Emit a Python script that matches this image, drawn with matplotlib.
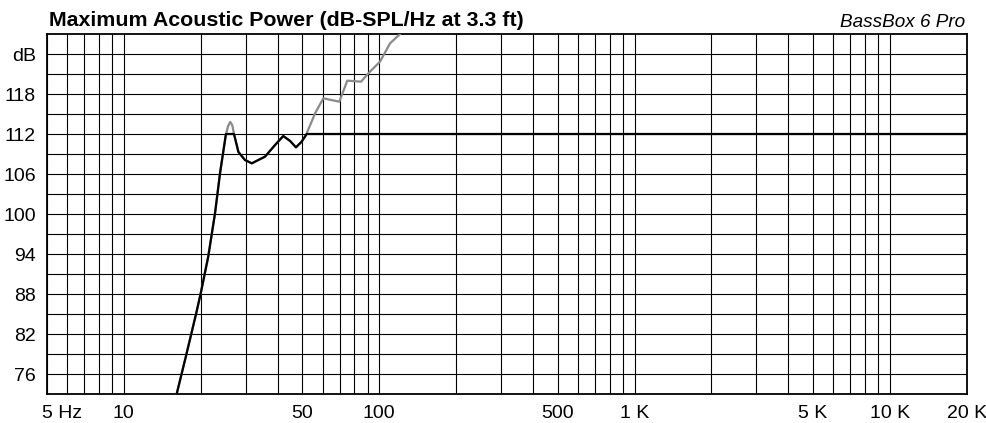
import matplotlib
matplotlib.use("Agg")
import matplotlib.pyplot as plt
from matplotlib.ticker import LogLocator, FixedLocator, NullFormatter
from matplotlib.transforms import ScaledTranslation
import numpy as np

plt.rcParams['font.family'] = ['Liberation Sans', 'DejaVu Sans']

# unclipped max power curve (grey) and the displacement/power-limited curve (black)
gray_freq = [16.1, 17.55, 19.2, 20.0, 21.4, 22.75, 23.8, 25.1, 25.6, 26.1, 26.6, 27.0, 28.1, 29.8,
             31.7, 35.7, 39.1, 42.1, 44.8, 47.2, 49.7, 51.7, 56.1, 60.4, 69.8, 75.0, 84.9,
             90.7, 100.7, 110.3, 120.7, 130.0]
gray_db = [73.0, 78.85, 85.1, 88.1, 93.6, 100.1, 106.1, 111.9, 113.2, 113.8, 113.3, 112.0, 109.3, 108.1,
           107.6, 108.6, 110.35, 111.7, 110.95, 110.0, 110.85, 111.85, 115.1, 117.35, 116.85, 120.0, 119.85,
           121.1, 122.85, 125.6, 127.0, 128.5]

black_freq = [16.1, 17.55, 19.2, 20.0, 21.4, 22.75, 23.8, 25.1, 27.0, 28.1, 29.8, 31.7, 35.7,
              39.1, 42.1, 44.8, 47.2, 49.7, 52.0, 20000.0]
black_db = [73.0, 78.85, 85.1, 88.1, 93.6, 100.1, 106.1, 112.0, 112.0, 109.3, 108.1, 107.6, 108.6,
            110.35, 111.7, 110.95, 110.0, 110.85, 112.0, 112.0]

x_ticks = [5, 10, 50, 100, 500, 1000, 5000, 10000, 20000]
x_labels = ["5 Hz", "10", "50", "100", "500", "1 K", "5 K", "10 K", "20 K"]
y_ticks = [76, 82, 88, 94, 100, 106, 112, 118, 124]
y_labels = ["76", "82", "88", "94", "100", "106", "112", "118", "dB"]

W, H = 987, 423
fig = plt.figure(figsize=(W / 100, H / 100), dpi=100)
ax = fig.add_axes([47 / W, 1 - 394 / H, (966.7 - 47) / W, (394 - 34) / H])

ax.plot(gray_freq, gray_db, color="#8a8a8a", lw=1.6, zorder=3)
ax.plot(black_freq, black_db, color="black", lw=1.6, zorder=4)

ax.set_xscale("log")
ax.set_xlim(5, 20000)
ax.set_ylim(73, 127)

ax.set_xticks(x_ticks, x_labels)
ax.xaxis.set_minor_locator(LogLocator(base=10, subs=np.arange(1, 10)))
ax.xaxis.set_minor_formatter(NullFormatter())
ax.set_yticks(y_ticks, y_labels)
ax.yaxis.set_minor_locator(FixedLocator(np.arange(79, 125, 6)))

ax.grid(which="both", color="black", lw=0.8)
ax.tick_params(which="both", length=0, labelsize=14)
ax.tick_params(axis="x", pad=8)
ax.tick_params(axis="y", pad=8)
first = ax.get_xticklabels()[0]
first.set_ha("left")
first.set_transform(first.get_transform() + ScaledTranslation(-5 / 100, 0, fig.dpi_scale_trans))
for s in ax.spines.values():
    s.set_linewidth(1.3)

fig.text(49 / W, 1 - 26 / H, "Maximum Acoustic Power (dB-SPL/Hz at 3.3 ft)",
         fontsize=15.4, fontweight="bold", va="baseline", ha="left")
fig.text(965 / W, 1 - 27 / H, "BassBox 6 Pro", fontsize=13.6, style="italic",
         va="baseline", ha="right")

fig.savefig("out.png", dpi=100)
